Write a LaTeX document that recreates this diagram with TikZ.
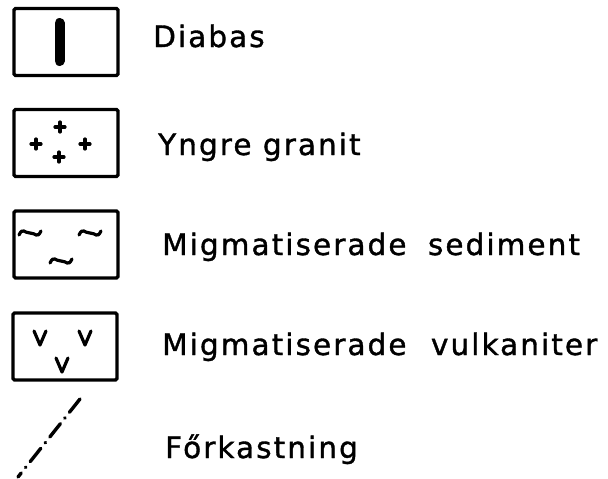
\documentclass[tikz,border=0pt]{standalone}
\usepackage{fontspec}
\setmainfont{DejaVu Sans}[LetterSpace=7,FakeBold=1.2]
\begin{document}
\begin{tikzpicture}[x=1pt,y=-1pt,
  legbox/.style={draw,line width=3.2pt,rounded corners=1.5pt,minimum width=104pt,minimum height=67pt,inner sep=0pt},
  lab/.style={anchor=base west,inner sep=0pt,font=\fontsize{29.5}{30}\selectfont},
  sym/.style={line width=3.2pt,line cap=round}]
\useasboundingbox (0,0) rectangle (608,479);
% boxes
\node[legbox] (b1) at (66,42) {};
\node[legbox] (b2) at (66,143) {};
\node[legbox] (b3) at (66,244.5) {};
\node[legbox] (b4) at (65,346.5) {};
% diabas bar
\draw[line width=10pt,line cap=round] (59.5,23) -- (59.5,61);
% plus signs
\foreach \p in {(60,127),(36,144),(85,144),(59,157)}{
  \draw[sym] \p ++(-5,0) -- ++(10,0);
  \draw[sym] \p ++(0,-5) -- ++(0,10);
}
% tildes
\foreach \p in {(30,233),(90,233),(61,261)}{
  \draw[sym] \p ++(-11,2) .. controls ++(4,-8) and ++(-6,0) .. ++(11,-2) .. controls ++(6,0) and ++(-4,8) .. ++(11,-2);
}
% v's
\foreach \p in {(40,338),(85,338),(62,365)}{
  \draw[sym,line join=round] \p ++(-6,-7) -- ++(6,14) -- ++(6,-14);
}
% fault
\coordinate (f1) at (18,477);
\coordinate (f2) at (80,399);
\draw[line width=3.4pt,line cap=round,dash pattern=on 17pt off 7pt on 0.5pt off 7pt] (f2) -- (f1);
% labels
\node[lab] (t1) at (153,47) {Diabas};
\node[lab] (t2) at (158,155) {Yngre granit};
\node[lab] (t3) at (162,255) {Migmatiserade\hspace{10pt} sediment};
\node[lab] (t4) at (162,355) {Migmatiserade\hspace{13pt} vulkaniter};
\node[lab] (t5) at (165,458) {Főrkastning};
\end{tikzpicture}
\end{document}
